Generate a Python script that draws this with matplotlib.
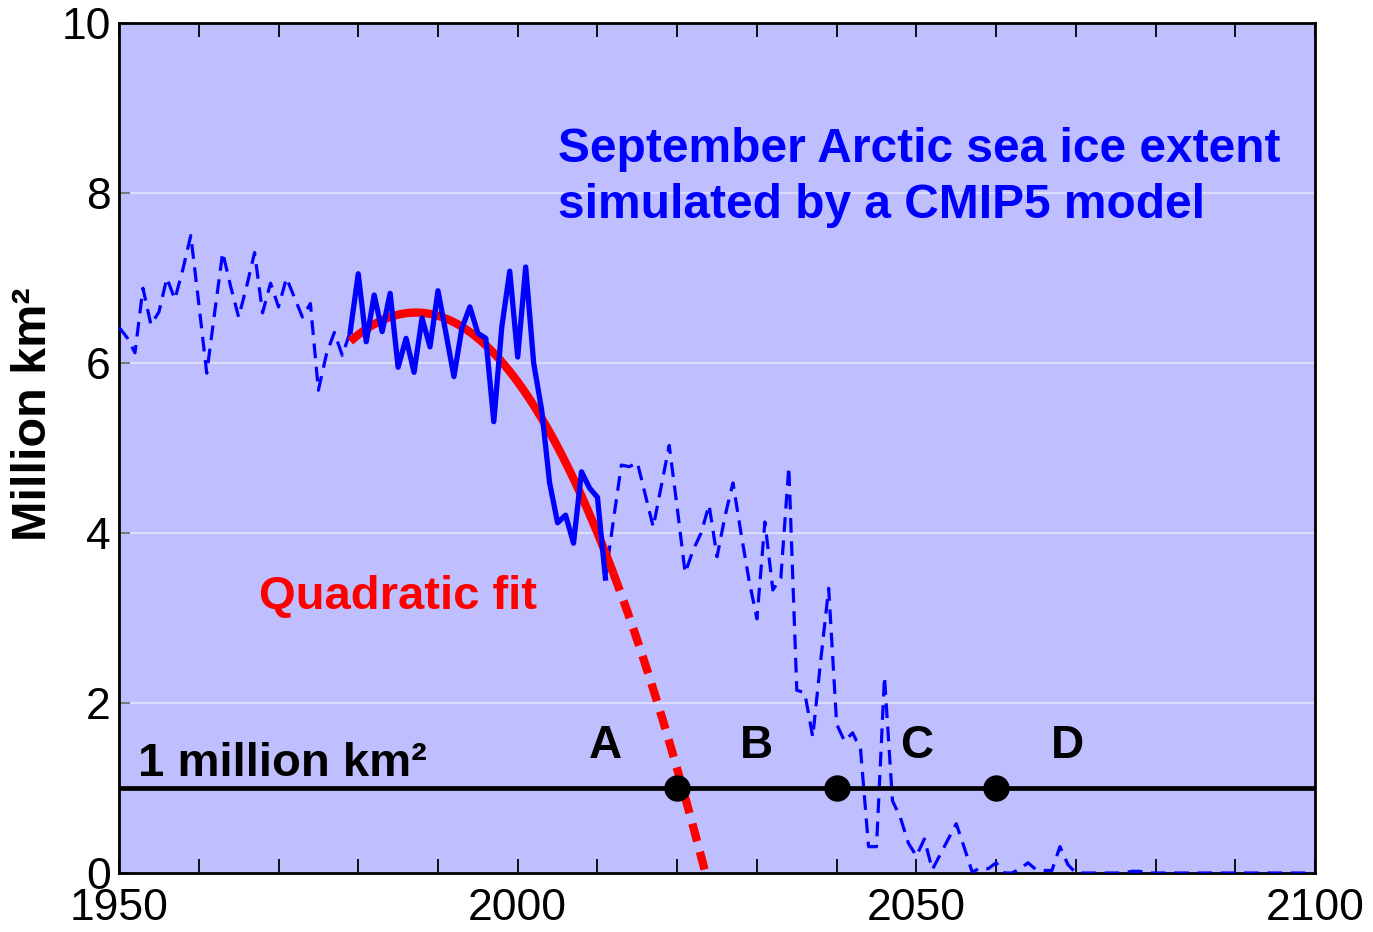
import matplotlib
matplotlib.use("Agg")
import matplotlib.pyplot as plt
import numpy as np

plt.rcParams["font.family"] = ["Liberation Sans", "DejaVu Sans"]

# September Arctic sea ice extent, one CMIP5 run (million km^2), 1950-2100
years = np.arange(1950, 2101)
extent = [
    6.42, 6.30, 6.12, 6.88, 6.45, 6.60, 7.00, 6.75, 7.10, 7.50,   # 1950s
    6.70, 5.88, 6.60, 7.30, 6.90, 6.54, 6.90, 7.30, 6.59, 6.94,   # 1960s
    6.66, 7.00, 6.77, 6.54, 6.70, 5.68, 6.10, 6.36, 6.09, 6.37,   # 1970s
    7.05, 6.25, 6.80, 6.37, 6.82, 5.95, 6.29, 5.89, 6.53, 6.19,   # 1980s
    6.85, 6.35, 5.84, 6.41, 6.66, 6.35, 6.29, 5.31, 6.42, 7.08,   # 1990s
    6.07, 7.13, 6.00, 5.45, 4.59, 4.12, 4.21, 3.88, 4.72, 4.53,   # 2000s
    4.42, 3.47, 4.15, 4.80, 4.78, 4.83, 4.45, 4.07, 4.55, 5.03,   # 2010s
    4.30, 3.53, 3.80, 4.00, 4.33, 3.72, 4.20, 4.59, 4.00, 3.45,   # 2020s
    2.99, 4.13, 3.33, 3.47, 4.78, 2.15, 2.12, 1.60, 2.50, 3.35,   # 2030s
    1.75, 1.55, 1.65, 1.45, 0.31, 0.31, 2.31, 0.85, 0.65, 0.35,   # 2040s
    0.20, 0.40, 0.04, 0.22, 0.40, 0.58, 0.30, 0.01, 0.06, 0.05,   # 2050s
    0.12, 0.00, 0.00, 0.05, 0.12, 0.04, 0.03, 0.03, 0.31, 0.10,   # 2060s
    0.00, 0.00, 0.00, 0.00, 0.00, 0.00, 0.00, 0.02, 0.02, 0.00,   # 2070s
    0.00, 0.00, 0.00, 0.00, 0.00, 0.00, 0.00, 0.00, 0.00, 0.00,   # 2080s
    0.00, 0.00, 0.00, 0.00, 0.00, 0.00, 0.00, 0.00, 0.00, 0.00,   # 2090s
    0.00,                                                         # 2100
]
extent = np.array(extent)

obs_start, obs_end = 1979, 2011          # "observed" period drawn solid
fit_solid_end, fit_end = 2012, 2026
threshold = 1.0
crossings = [2020, 2040, 2060]
letters = ["A", "B", "C", "D"]
letter_years = [2011, 2030, 2050, 2069]

BG = "#bfbfff"
BLUE = "#0000ff"
RED = "#ff0000"

fig = plt.figure(figsize=(13.73, 9.32), dpi=100)
ax = fig.add_axes([0.0867, 0.0633, 0.8711, 0.912])
ax.set_facecolor(BG)

# full model run, dashed
ax.plot(years, extent, color=BLUE, lw=2.3, dashes=(4.6, 2.7), zorder=3)

# quadratic fit over the solid period
m = (years >= obs_start) & (years <= obs_end)
coef = np.polyfit(years[m], extent[m], 2)
t1 = np.linspace(obs_start, fit_solid_end, 200)
t2 = np.linspace(fit_solid_end, fit_end, 200)
ax.plot(t1, np.polyval(coef, t1), color=RED, lw=6, solid_capstyle="butt", zorder=4)
ax.plot(t2, np.polyval(coef, t2), color=RED, lw=6, dashes=(2.2, 1.3), zorder=4)

# solid period on top
ax.plot(years[m], extent[m], color=BLUE, lw=3.8, zorder=5)

# 1 million km^2 line and crossing dots
ax.axhline(threshold, color="black", lw=3.4, zorder=6)
ax.plot(crossings, [threshold] * len(crossings), "o", color="black", ms=18, zorder=7)

for lt, ly in zip(letters, letter_years):
    ax.text(ly, 1.5, lt, ha="center", va="center", fontsize=33, fontweight="bold", zorder=8)

ax.text(1952.4, 1.28, "1 million km²", fontsize=34, fontweight="bold", ha="left", va="center")
ax.text(1967.5, 3.25, "Quadratic fit", fontsize=34, fontweight="bold", color=RED, ha="left", va="center")
ax.text(2005, 8.18, "September Arctic sea ice extent\nsimulated by a CMIP5 model",
        fontsize=34.5, fontweight="bold", color=BLUE, ha="left", va="center", linespacing=1.33)

ax.set_xlim(1950, 2100)
ax.set_ylim(0, 10)
ax.set_xticks([1950, 2000, 2050, 2100])
ax.set_xticks(np.arange(1950, 2101, 10), minor=True)
ax.set_yticks(np.arange(0, 11, 2))
ax.yaxis.grid(True, color="#dcdcff", lw=1.5, zorder=1)
ax.set_axisbelow(True)
ax.tick_params(axis="x", which="both", direction="in", top=True, length=10, width=1.3,
               labelsize=32, pad=11)
ax.tick_params(axis="y", which="both", direction="in", length=8, width=1.3, color="#707070",
               labelsize=32, pad=6)
for s in ax.spines.values():
    s.set_linewidth(2)
ax.set_ylabel("Million km²", fontsize=35, fontweight="bold")
ax.yaxis.set_label_coords(-0.053, 0.54)

fig.savefig("out.png", dpi=100)
